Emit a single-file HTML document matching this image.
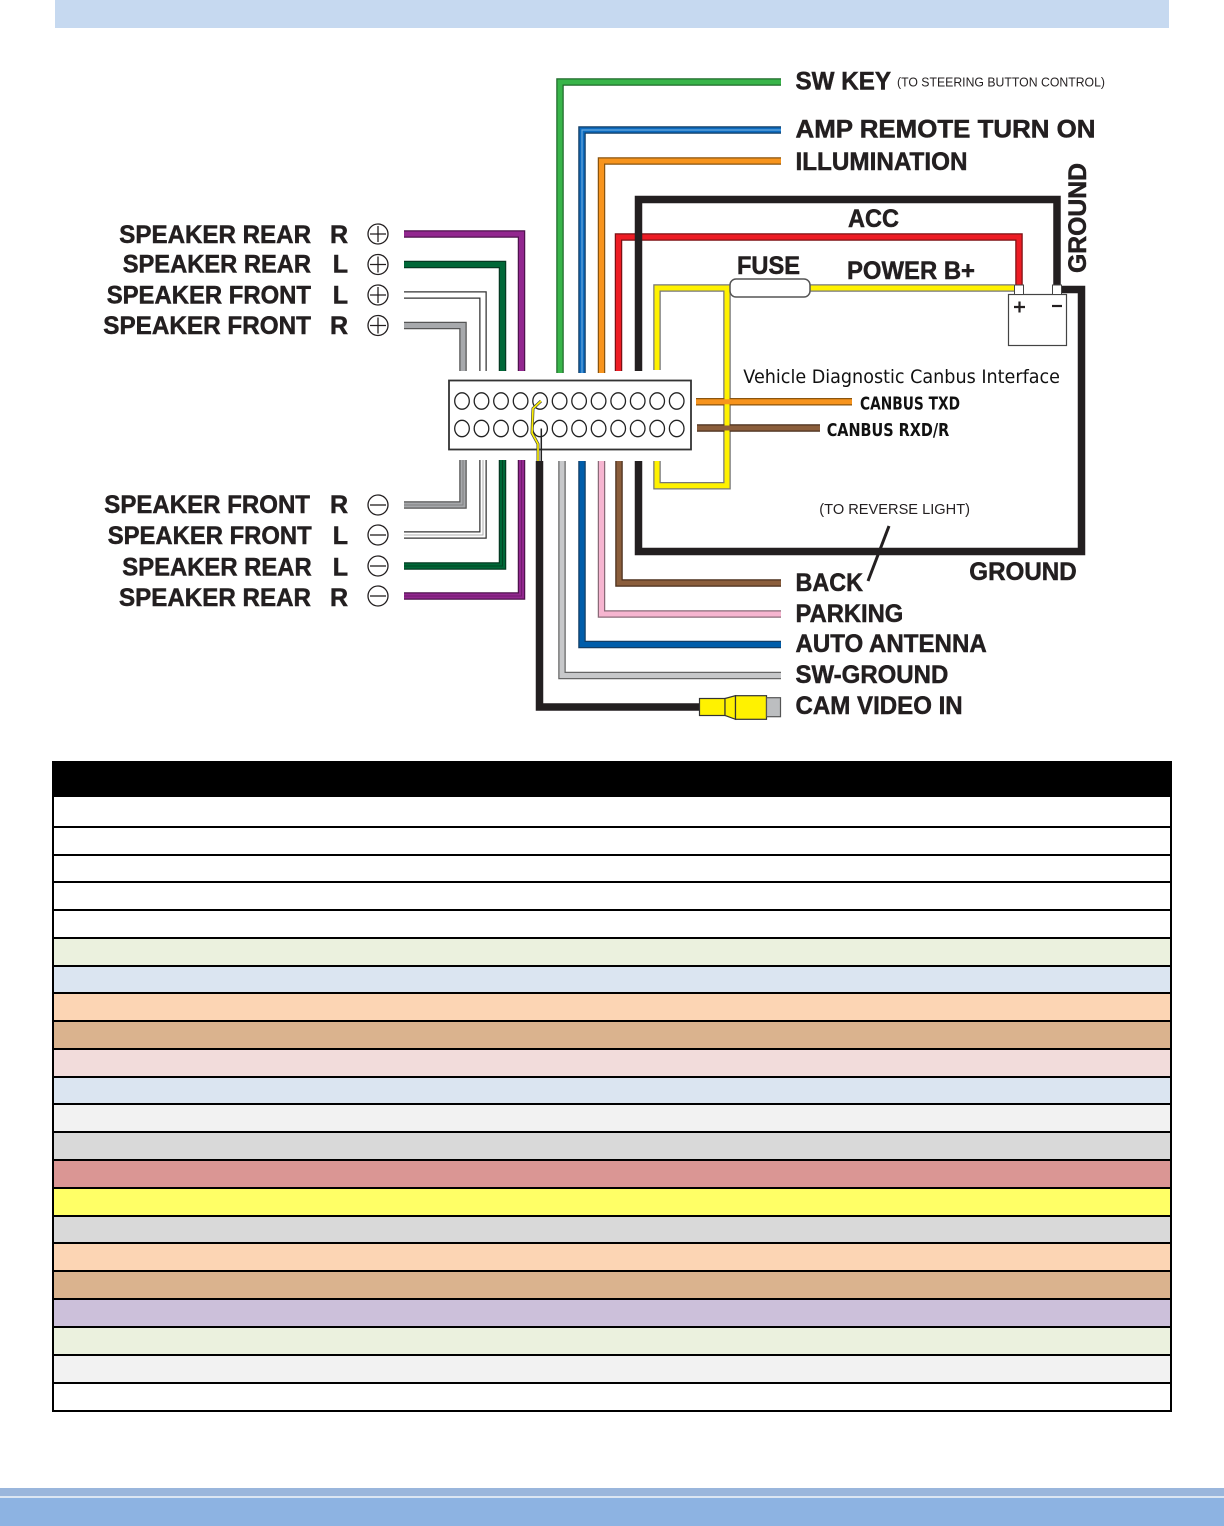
<!DOCTYPE html>
<html><head><meta charset="utf-8"><style>
html,body{margin:0;padding:0;background:#fff;}
svg{display:block;}
.t{font-family:"Liberation Sans",Arial,sans-serif;font-weight:bold;fill:#231f20;stroke:#231f20;stroke-width:0.5;}
.n{font-family:"Liberation Sans",Arial,sans-serif;fill:#231f20;}
.d{font-family:"DejaVu Sans","Liberation Sans",sans-serif;fill:#111;}
.db{font-family:"DejaVu Sans Condensed","DejaVu Sans","Liberation Sans",sans-serif;font-weight:bold;fill:#111;}
path{fill:none;stroke-linejoin:miter;stroke-linecap:butt;}
</style></head><body>
<svg width="1224" height="1526" viewBox="0 0 1224 1526" xmlns="http://www.w3.org/2000/svg">
<rect x="0" y="0" width="1224" height="1526" fill="#fff"/>
<rect x="55" y="0" width="1114" height="28" fill="#c6d9f0"/>

<g stroke-width="7.5">
<path d="M404 234 H521.5 V371" stroke="#4f124d"/>
<path d="M404 264.5 H502.5 V371" stroke="#053a22"/>
<path d="M404 295 H483 V371" stroke="#333"/>
<path d="M404 325.5 H463 V371" stroke="#555"/>
<path d="M404 505 H463 V460" stroke="#555"/>
<path d="M404 535 H483 V460" stroke="#333"/>
<path d="M404 566 H502.5 V460" stroke="#053a22"/>
<path d="M404 596 H521.5 V460" stroke="#4f124d"/>
<path d="M560 373 V82 H781" stroke="#1f6a2a"/>
<path d="M582 373 V130 H781" stroke="#123e66"/>
<path d="M601.5 373 V161 H781" stroke="#8a540e"/>
<path d="M618.5 371 V237 H1019 V286" stroke="#7d1014"/>
<path d="M657 370 V288 H730" stroke="#777"/>
<path d="M810 288 H1014" stroke="#777"/>
<path d="M727 288 V485.7 H657 V461" stroke="#777"/>
<path d="M562 461 V675.5 H781" stroke="#666"/>
<path d="M582 461 V644.5 H781" stroke="#123e66"/>
<path d="M601.5 461 V614 H781" stroke="#8a6a78"/>
<path d="M619 461 V583 H781" stroke="#4a2f1c"/>
<path d="M696 401.7 H852" stroke="#8a540e"/>
<path d="M697 428 H820" stroke="#4a2f1c"/>
</g>
<g stroke-width="5">
<path d="M404 234 H521.5 V371" stroke="#92278f"/>
<path d="M404 264.5 H502.5 V371" stroke="#006838"/>
<path d="M404 295 H483 V371" stroke="#fff"/>
<path d="M404 325.5 H463 V371" stroke="#a7a9ac"/>
<path d="M404 505 H463 V460" stroke="#a7a9ac"/>
<path d="M404 535 H483 V460" stroke="#fff"/>
<path d="M404 566 H502.5 V460" stroke="#006838"/>
<path d="M404 596 H521.5 V460" stroke="#92278f"/>
<path d="M560 373 V82 H781" stroke="#39b54a"/>
<path d="M582 373 V130 H781" stroke="#0d6bbf"/>
<path d="M601.5 373 V161 H781" stroke="#f7941d"/>
<path d="M618.5 371 V237 H1019 V286" stroke="#ed1c24"/>
<path d="M657 370 V288 H730" stroke="#fff200"/>
<path d="M810 288 H1014" stroke="#fff200"/>
<path d="M727 288 V485.7 H657 V461" stroke="#fff200"/>
<path d="M562 461 V675.5 H781" stroke="#c7c8ca"/>
<path d="M582 461 V644.5 H781" stroke="#005daa"/>
<path d="M601.5 461 V614 H781" stroke="#f6b5d0"/>
<path d="M619 461 V583 H781" stroke="#8b5e3c"/>
<path d="M696 401.7 H852" stroke="#f7941d"/>
<path d="M697 428 H820" stroke="#8b5e3c"/>
</g>
<g stroke-width="1" opacity="0.6">
<path d="M404 596 H521.5 V460" stroke="#5a1458"/>
<path d="M404 566 H502.5 V460" stroke="#02301a"/>
<path d="M404 535 H483 V460" stroke="#777"/>
<path d="M404 505 H463 V460" stroke="#666"/>
</g>
<g stroke-width="1.2" opacity="0.7">
<path d="M582 373 V130 H781" stroke="#8fc3ee"/>
</g>
<g stroke="#231f20" stroke-width="7.5">
<path d="M638.5 371 V199.5 H1057 V286"/>
<path d="M638.5 461 V551.5 H1081.5 V289.5 H1060"/>
<path d="M539.5 461 V707 H700"/>
</g>

<rect x="730" y="279" width="80" height="18" rx="6" fill="#fff" stroke="#555" stroke-width="1.5"/>
<rect x="1008.5" y="294.5" width="58" height="51" fill="#fff" stroke="#444" stroke-width="1.2"/>
<rect x="1014.5" y="285" width="9" height="9.5" fill="#fff" stroke="#444" stroke-width="1"/>
<rect x="1052.5" y="285" width="9" height="9.5" fill="#fff" stroke="#444" stroke-width="1"/>
<path d="M1014 307 H1025 M1019.5 301.5 V312.5" stroke="#231f20" stroke-width="2.2"/>
<path d="M1052 306 H1062" stroke="#231f20" stroke-width="2.2"/>

<rect x="449" y="380.5" width="242" height="69" fill="#fff" stroke="#333" stroke-width="1.8"/>
<g fill="#fff" stroke="#222" stroke-width="1.3">
<ellipse cx="462" cy="401" rx="7.3" ry="8.2"/><ellipse cx="481.5" cy="401" rx="7.3" ry="8.2"/><ellipse cx="501" cy="401" rx="7.3" ry="8.2"/><ellipse cx="520.6" cy="401" rx="7.3" ry="8.2"/><ellipse cx="540.1" cy="401" rx="7.3" ry="8.2"/><ellipse cx="559.6" cy="401" rx="7.3" ry="8.2"/><ellipse cx="579.1" cy="401" rx="7.3" ry="8.2"/><ellipse cx="598.6" cy="401" rx="7.3" ry="8.2"/><ellipse cx="618.2" cy="401" rx="7.3" ry="8.2"/><ellipse cx="637.7" cy="401" rx="7.3" ry="8.2"/><ellipse cx="657.2" cy="401" rx="7.3" ry="8.2"/><ellipse cx="676.7" cy="401" rx="7.3" ry="8.2"/>
<ellipse cx="462" cy="428.5" rx="7.3" ry="8.2"/><ellipse cx="481.5" cy="428.5" rx="7.3" ry="8.2"/><ellipse cx="501" cy="428.5" rx="7.3" ry="8.2"/><ellipse cx="520.6" cy="428.5" rx="7.3" ry="8.2"/><ellipse cx="540.1" cy="428.5" rx="7.3" ry="8.2"/><ellipse cx="559.6" cy="428.5" rx="7.3" ry="8.2"/><ellipse cx="579.1" cy="428.5" rx="7.3" ry="8.2"/><ellipse cx="598.6" cy="428.5" rx="7.3" ry="8.2"/><ellipse cx="618.2" cy="428.5" rx="7.3" ry="8.2"/><ellipse cx="637.7" cy="428.5" rx="7.3" ry="8.2"/><ellipse cx="657.2" cy="428.5" rx="7.3" ry="8.2"/><ellipse cx="676.7" cy="428.5" rx="7.3" ry="8.2"/>
</g>
<path d="M541 401 L533 408.5 L532 433 L538 444 V461" stroke="#444" stroke-width="3"/>
<path d="M541 401 L533 408.5 L532 433 L538 444 V461" stroke="#fff200" stroke-width="1.6"/>
<path d="M541.3 428.5 V461" stroke="#222" stroke-width="1.5"/>

<path d="M889 526 L868 581" stroke="#231f20" stroke-width="3"/>

<rect x="699.5" y="698.5" width="25.5" height="17" fill="#fff200" stroke="#333" stroke-width="1.2"/>
<polygon points="725,698.5 735.5,695.7 735.5,719.3 725,715.5" fill="#fff200" stroke="#333" stroke-width="1.2"/>
<rect x="735.5" y="695.7" width="31" height="23.6" fill="#fff200" stroke="#333" stroke-width="1.2"/>
<rect x="766.5" y="697.7" width="14" height="19" fill="#bcbec0" stroke="#555" stroke-width="1.2"/>

<g fill="#fff" stroke="#231f20" stroke-width="1.3">
<circle cx="378" cy="234" r="10"/><circle cx="378" cy="264.5" r="10"/><circle cx="378" cy="295" r="10"/><circle cx="378" cy="325.5" r="10"/>
<circle cx="378" cy="505" r="10"/><circle cx="378" cy="535" r="10"/><circle cx="378" cy="566" r="10"/><circle cx="378" cy="596" r="10"/>
</g>
<g stroke="#231f20" stroke-width="1.3">
<path d="M370 234 H386 M378 226 V242"/><path d="M370 264.5 H386 M378 256.5 V272.5"/><path d="M370 295 H386 M378 287 V303"/><path d="M370 325.5 H386 M378 317.5 V333.5"/>
<path d="M370 505 H386"/><path d="M370 535 H386"/><path d="M370 566 H386"/><path d="M370 596 H386"/>
</g>

<g class="t" font-size="25">
<text x="119.3" y="243" textLength="191.7" lengthAdjust="spacingAndGlyphs">SPEAKER REAR</text>
<text x="122.7" y="272.5" textLength="188.3" lengthAdjust="spacingAndGlyphs">SPEAKER REAR</text>
<text x="106.7" y="303.5" textLength="204.3" lengthAdjust="spacingAndGlyphs">SPEAKER FRONT</text>
<text x="103.3" y="334" textLength="207.7" lengthAdjust="spacingAndGlyphs">SPEAKER FRONT</text>
<text x="348" y="243" text-anchor="end">R</text>
<text x="348" y="272.5" text-anchor="end">L</text>
<text x="348" y="303.5" text-anchor="end">L</text>
<text x="348" y="334" text-anchor="end">R</text>
<text x="104.3" y="513" textLength="205.7" lengthAdjust="spacingAndGlyphs">SPEAKER FRONT</text>
<text x="107.7" y="544" textLength="204" lengthAdjust="spacingAndGlyphs">SPEAKER FRONT</text>
<text x="122.3" y="575.7" textLength="189.4" lengthAdjust="spacingAndGlyphs">SPEAKER REAR</text>
<text x="119" y="606" textLength="192" lengthAdjust="spacingAndGlyphs">SPEAKER REAR</text>
<text x="348" y="513" text-anchor="end">R</text>
<text x="348" y="544" text-anchor="end">L</text>
<text x="348" y="575.7" text-anchor="end">L</text>
<text x="348" y="606" text-anchor="end">R</text>
</g>

<g class="t" font-size="25">
<text x="795.5" y="89.3" textLength="95.5" lengthAdjust="spacingAndGlyphs">SW KEY</text>
<text x="795.5" y="137.3" textLength="300" lengthAdjust="spacingAndGlyphs">AMP REMOTE TURN ON</text>
<text x="795.5" y="170" textLength="172" lengthAdjust="spacingAndGlyphs">ILLUMINATION</text>
<text x="848" y="227" textLength="51" lengthAdjust="spacingAndGlyphs">ACC</text>
<text x="737" y="274" textLength="63" lengthAdjust="spacingAndGlyphs">FUSE</text>
<text x="847" y="279" textLength="128" lengthAdjust="spacingAndGlyphs">POWER B+</text>
<text transform="translate(1086,273) rotate(-90)" x="0" y="0" textLength="110" lengthAdjust="spacingAndGlyphs">GROUND</text>
<text x="795.5" y="591" textLength="67.5" lengthAdjust="spacingAndGlyphs">BACK</text>
<text x="969.3" y="580" textLength="107.4" lengthAdjust="spacingAndGlyphs">GROUND</text>
<text x="795.5" y="622" textLength="107.8" lengthAdjust="spacingAndGlyphs">PARKING</text>
<text x="795.5" y="652" textLength="191.2" lengthAdjust="spacingAndGlyphs">AUTO ANTENNA</text>
<text x="795.5" y="683" textLength="152.8" lengthAdjust="spacingAndGlyphs">SW-GROUND</text>
<text x="795.5" y="714" textLength="167.2" lengthAdjust="spacingAndGlyphs">CAM VIDEO IN</text>
</g>
<text class="n" x="897" y="86.5" font-size="13" textLength="208" lengthAdjust="spacingAndGlyphs">(TO STEERING BUTTON CONTROL)</text>
<text class="n" x="819.3" y="514" font-size="14.5" textLength="150.7" lengthAdjust="spacingAndGlyphs">(TO REVERSE LIGHT)</text>
<text class="d" x="743.3" y="383" font-size="19" textLength="316.7" lengthAdjust="spacingAndGlyphs">Vehicle Diagnostic Canbus Interface</text>
<text class="db" x="860" y="409.3" font-size="18" textLength="100" lengthAdjust="spacingAndGlyphs">CANBUS TXD</text>
<text class="db" x="826.7" y="436" font-size="18" textLength="122.6" lengthAdjust="spacingAndGlyphs">CANBUS RXD/R</text>

<rect x="53" y="761" width="1118" height="36" fill="#000"/>
<rect x="53" y="797" width="1118" height="141" fill="#fff"/>
<rect x="53" y="938" width="1118" height="28" fill="#ebf1de"/>
<rect x="53" y="966" width="1118" height="27" fill="#dbe5f1"/>
<rect x="53" y="993" width="1118" height="28" fill="#fcd5b4"/>
<rect x="53" y="1021" width="1118" height="28" fill="#dab38e"/>
<rect x="53" y="1049" width="1118" height="28" fill="#f2dcdb"/>
<rect x="53" y="1077" width="1118" height="27" fill="#dbe5f1"/>
<rect x="53" y="1104" width="1118" height="28" fill="#f2f2f2"/>
<rect x="53" y="1132" width="1118" height="28" fill="#d9d9d9"/>
<rect x="53" y="1160" width="1118" height="28" fill="#da9694"/>
<rect x="53" y="1188" width="1118" height="28" fill="#ffff66"/>
<rect x="53" y="1216" width="1118" height="27" fill="#d9d9d9"/>
<rect x="53" y="1243" width="1118" height="28" fill="#fcd5b4"/>
<rect x="53" y="1271" width="1118" height="28" fill="#dab38e"/>
<rect x="53" y="1299" width="1118" height="28" fill="#ccc0da"/>
<rect x="53" y="1327" width="1118" height="28" fill="#ebf1de"/>
<rect x="53" y="1355" width="1118" height="28" fill="#f2f2f2"/>
<rect x="53" y="1383" width="1118" height="28" fill="#fff"/>
<g stroke="#000" stroke-width="2">
<path d="M53 827 H1171 M53 855 H1171 M53 882 H1171 M53 910 H1171 M53 938 H1171 M53 966 H1171 M53 993 H1171 M53 1021 H1171 M53 1049 H1171 M53 1077 H1171 M53 1104 H1171 M53 1132 H1171 M53 1160 H1171 M53 1188 H1171 M53 1216 H1171 M53 1243 H1171 M53 1271 H1171 M53 1299 H1171 M53 1327 H1171 M53 1355 H1171 M53 1383 H1171"/>
</g>
<rect x="53" y="762" width="1118" height="649" fill="none" stroke="#000" stroke-width="2"/>

<rect x="0" y="1488" width="1224" height="8" fill="#9ab6dc"/>
<rect x="0" y="1496" width="1224" height="2" fill="#dce6f2"/>
<rect x="0" y="1498" width="1224" height="28" fill="#8db3e2"/>
</svg>
</body></html>
